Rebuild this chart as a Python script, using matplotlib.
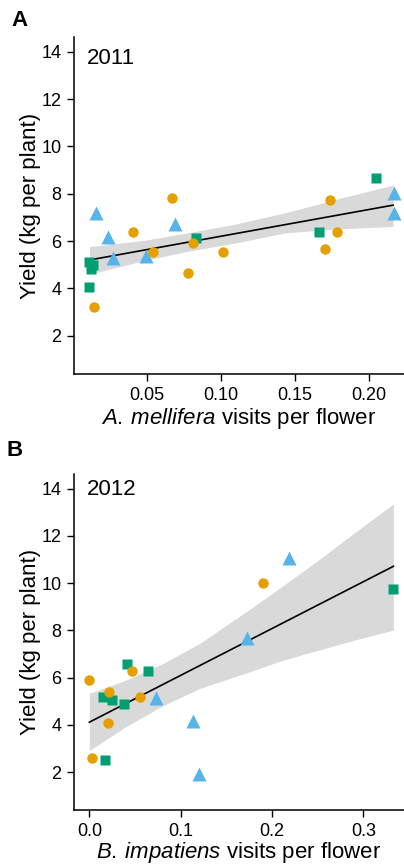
import matplotlib
matplotlib.use("Agg")
import matplotlib.pyplot as plt
import numpy as np

plt.rcParams['font.family'] = ['Liberation Sans', 'DejaVu Sans']
plt.rcParams['mathtext.fontset'] = 'custom'
plt.rcParams['mathtext.rm'] = 'Liberation Sans'
plt.rcParams['mathtext.it'] = 'Liberation Sans:italic'

orange = '#E69F00'
green = '#009E73'
blue = '#56B4E9'
band_col = '#D9D9D9'

# 2011 - A. mellifera
a_circ_x = [0.0146, 0.0408, 0.0543, 0.0671, 0.078, 0.0816, 0.1019, 0.1707, 0.174, 0.1786]
a_circ_y = [3.23, 6.37, 5.52, 7.82, 4.63, 5.94, 5.52, 5.65, 7.73, 6.37]
a_sq_x = [0.0112, 0.0112, 0.0135, 0.0125, 0.0834, 0.1666, 0.2052]
a_sq_y = [4.04, 5.12, 5.00, 4.82, 6.15, 6.37, 8.66]
a_tri_x = [0.0155, 0.0236, 0.0274, 0.0496, 0.0692, 0.2169, 0.2169]
a_tri_y = [7.17, 6.18, 5.30, 5.37, 6.72, 8.04, 7.17]
a_fit_x = [0.0112, 0.2166]
a_fit_y = [5.20, 7.52]
a_band_x = [0.0112, 0.05, 0.076, 0.11, 0.144, 0.18, 0.2166]
a_band_hi = [5.76, 6.05, 6.33, 6.72, 7.20, 7.80, 8.37]
a_band_lo = [4.60, 5.20, 5.55, 5.92, 6.35, 6.52, 6.62]

# 2012 - B. impatiens
b_circ_x = [0.0, 0.003, 0.0212, 0.0204, 0.047, 0.0555, 0.19]
b_circ_y = [5.88, 2.59, 5.38, 4.07, 6.29, 5.16, 10.02]
b_sq_x = [0.0416, 0.064, 0.0153, 0.0245, 0.038, 0.0175, 0.333]
b_sq_y = [6.56, 6.28, 5.17, 5.05, 4.90, 2.49, 9.76]
b_tri_x = [0.073, 0.1139, 0.12, 0.173, 0.2182]
b_tri_y = [5.13, 4.17, 1.90, 7.69, 11.08]
b_fit_x = [0.0, 0.333]
b_fit_y = [4.11, 10.71]
b_band_x = [0.0, 0.04, 0.081, 0.121, 0.176, 0.21, 0.25, 0.29, 0.333]
b_band_hi = [5.33, 5.89, 6.60, 7.45, 8.90, 9.83, 10.95, 12.12, 13.35]
b_band_lo = [2.91, 3.92, 4.82, 5.54, 6.25, 6.71, 7.15, 7.58, 8.01]

yticks = [2, 4, 6, 8, 10, 12, 14]
a_xticks = [0.05, 0.10, 0.15, 0.20]
a_xticklabels = ['0.05', '0.10', '0.15', '0.20']
b_xticks = [0.0, 0.1, 0.2, 0.3]
b_xticklabels = ['0.0', '0.1', '0.2', '0.3']

W, H = 404, 864
fig = plt.figure(figsize=(W / 100, H / 100), dpi=100)


def panel(rect, xlim, cx, cy, sx, sy, tx, ty, fx, fy, bx, bhi, blo,
          xticks, xticklabels, year, year_y, xlabel, xpad):
    ax = fig.add_axes(rect)
    ax.fill_between(bx, blo, bhi, color=band_col, lw=0, zorder=1)
    ax.plot(fx, fy, color='black', lw=1.2, zorder=2)
    ax.plot(tx, ty, '^', color=blue, ms=10, mec='none', zorder=3)
    ax.plot(sx, sy, 's', color=green, ms=7, mec='none', zorder=3)
    ax.plot(cx, cy, 'o', color=orange, ms=7.5, mec='none', zorder=3)
    ax.set_xlim(*xlim)
    ax.set_ylim(0.38, 14.63)
    ax.set_yticks(yticks)
    ax.set_xticks(xticks)
    ax.set_xticklabels(xticklabels)
    for s in ['top', 'right']:
        ax.spines[s].set_visible(False)
    for s in ['left', 'bottom']:
        ax.spines[s].set_linewidth(1.1)
    ax.tick_params(direction='out', length=5, width=1.0, labelsize=13, pad=4)
    ax.set_ylabel('Yield (kg per plant)', fontsize=16, labelpad=0)
    ax.set_xlabel(xlabel, fontsize=16, labelpad=xpad)
    ax.text(0.04, year_y, year, transform=ax.transAxes, fontsize=16,
            va='center', ha='left')
    return ax


axA = panel([74 / W, 1 - 374 / H, 330 / W, 337 / H], (0.0008, 0.224),
            a_circ_x, a_circ_y, a_sq_x, a_sq_y, a_tri_x, a_tri_y,
            a_fit_x, a_fit_y, a_band_x, a_band_hi, a_band_lo,
            a_xticks, a_xticklabels, '2011', 0.935,
            r'$\mathit{A.\:mellifera}$ visits per flower', 2)
axB = panel([74 / W, 1 - 810.3 / H, 330 / W, 336.6 / H], (-0.0168, 0.3446),
            b_circ_x, b_circ_y, b_sq_x, b_sq_y, b_tri_x, b_tri_y,
            b_fit_x, b_fit_y, b_band_x, b_band_hi, b_band_lo,
            b_xticks, b_xticklabels, '2012', 0.952,
            r'$\mathit{B.\:impatiens}$ visits per flower', 0.5)

fig.text(20 / W, 1 - 20 / H, 'A', fontsize=16, fontweight='bold', ha='center', va='center')
fig.text(15 / W, 1 - 450 / H, 'B', fontsize=16, fontweight='bold', ha='center', va='center')

fig.savefig('out.png', dpi=100)
